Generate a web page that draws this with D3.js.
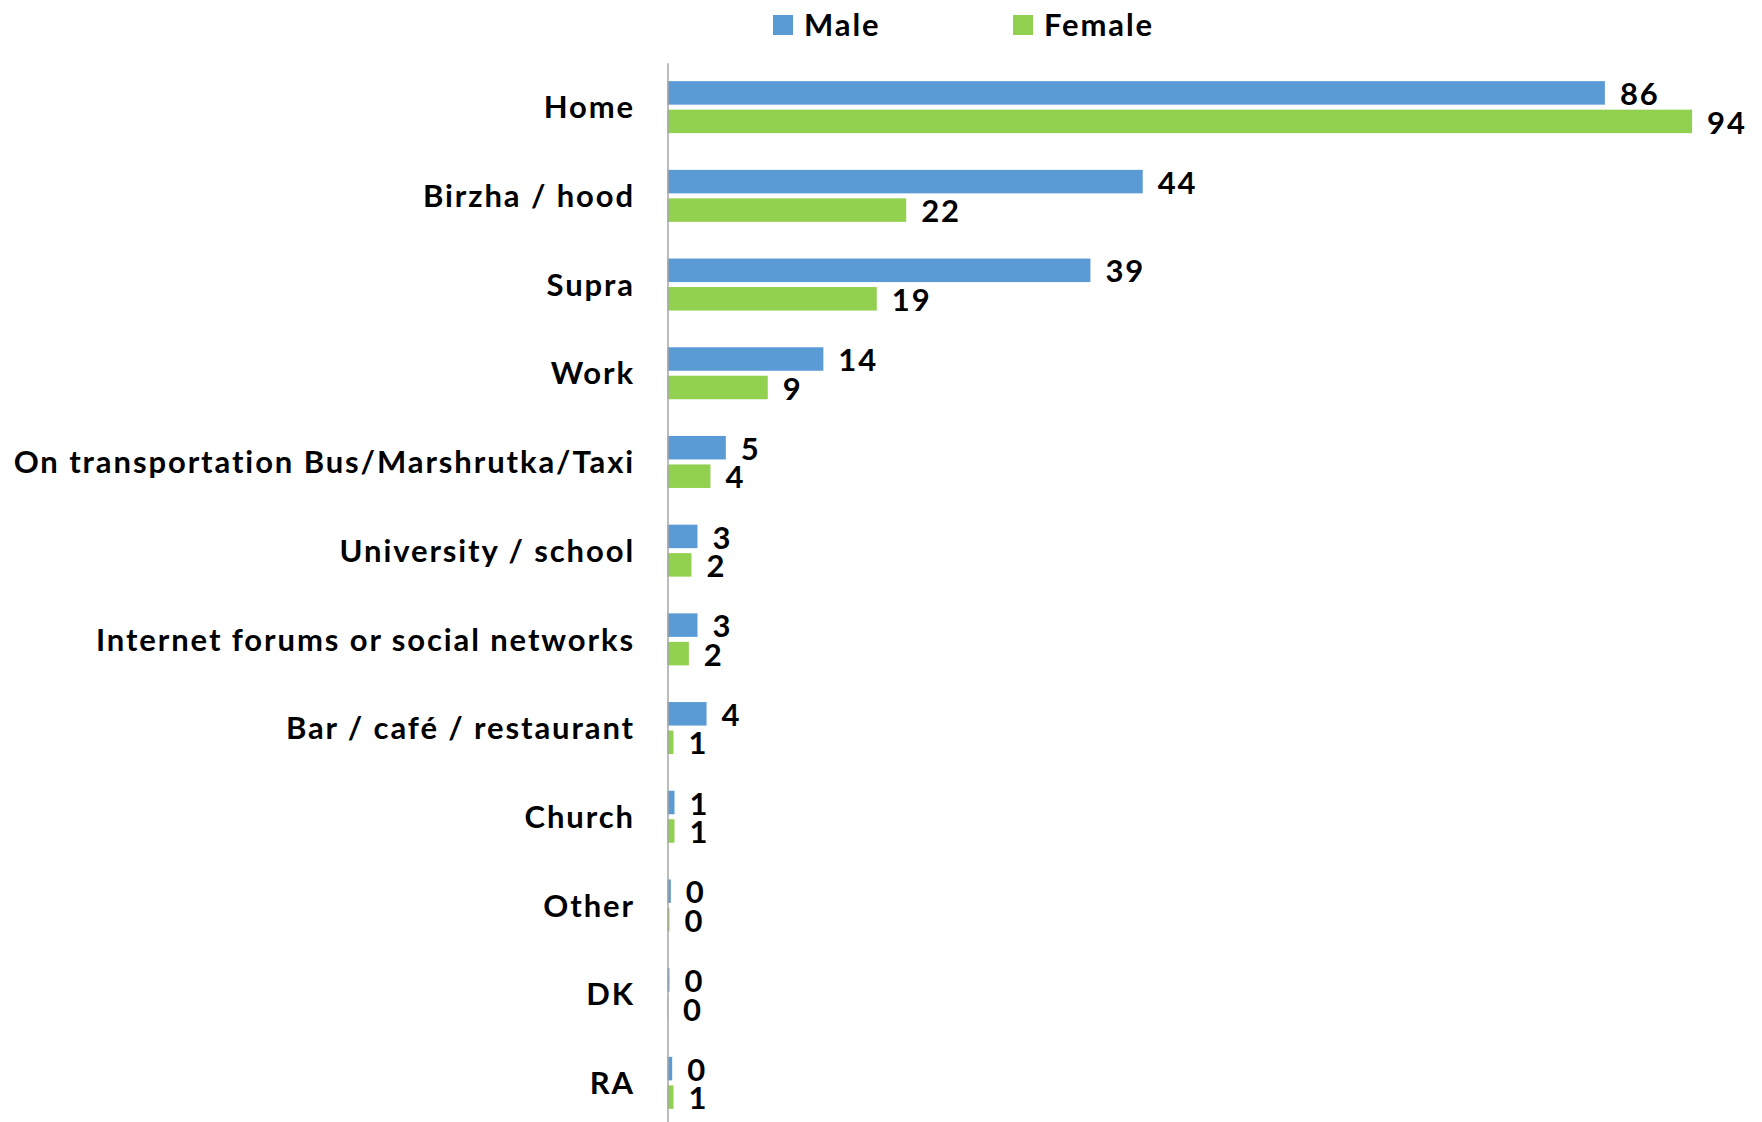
<!DOCTYPE html>
<html>
<head>
<meta charset="utf-8">
<script src="https://cdn.jsdelivr.net/npm/d3@7"></script>
<style>
  html, body { margin: 0; padding: 0; background: #ffffff; }
  svg { display: block; }
  text { font-family: Lato, "Open Sans", sans-serif; font-weight: 700; fill: #000; letter-spacing: 1.9px; }
</style>
</head>
<body>
<svg id="chart" width="1762" height="1122"></svg>
<script>
// Where conversations take place, by gender (%)
const categories = [
  "Home",
  "Birzha / hood",
  "Supra",
  "Work",
  "On transportation Bus/Marshrutka/Taxi",
  "University / school",
  "Internet forums or social networks",
  "Bar / café / restaurant",
  "Church",
  "Other",
  "DK",
  "RA"
];
const seriesNames = ["Male", "Female"];
const maleValues   = [86.0, 43.6, 38.8, 14.3, 5.35, 2.75, 2.75, 3.58, 0.64, 0.30, 0.18, 0.43];
const femaleValues = [94.0, 21.9, 19.2, 9.2, 3.94, 2.2, 1.96, 0.55, 0.64, 0.18, 0.04, 0.55];
const seriesColors = ["#5B9BD5", "#92D050"];

const svg = d3.select("#chart");
const axisX = 667.5;
const plotTop = 62.8;
const step = 88.7;

const x = d3.scaleLinear().domain([0, 100]).range([axisX, axisX + 1090]);
const y0 = d3.scaleBand().domain(categories)
  .range([plotTop, plotTop + step * categories.length]).paddingInner(0).paddingOuter(0);
const pairH = 52;
const y1 = d3.scaleBand().domain(seriesNames)
  .range([(y0.bandwidth() - pairH) / 2, (y0.bandwidth() + pairH) / 2])
  .paddingInner(0.175).paddingOuter(0);
const color = d3.scaleOrdinal().domain(seriesNames).range(seriesColors);

const rows = categories.map((c, i) => ({
  category: c,
  values: [
    { series: "Male", value: maleValues[i] },
    { series: "Female", value: femaleValues[i] }
  ]
}));

const fontSize = 31;
const capHalf = fontSize * 0.36;

// Category labels
svg.append("g").selectAll("text").data(categories).join("text")
  .attr("x", 635)
  .attr("y", d => y0(d) + y0.bandwidth() / 2 + capHalf)
  .attr("text-anchor", "end")
  .style("font-size", fontSize + "px")
  .text(d => d);

// Bars and value labels
const groups = svg.append("g").selectAll("g").data(rows).join("g")
  .attr("transform", d => `translate(0,${y0(d.category)})`);

groups.selectAll("rect").data(d => d.values).join("rect")
  .attr("x", x(0))
  .attr("y", d => y1(d.series))
  .attr("width", d => x(d.value) - x(0))
  .attr("height", y1.bandwidth())
  .attr("fill", d => color(d.series));

groups.selectAll("text").data(d => d.values).join("text")
  .attr("x", d => x(d.value) + 15)
  .attr("y", d => y1(d.series) + y1.bandwidth() / 2 + capHalf + 1)
  .style("font-size", fontSize + "px")
  .text(d => d3.format(".0f")(d.value));

// Vertical category axis line
const yAxis = d3.axisLeft(y0).tickSize(0).tickFormat("");
const axisG = svg.append("g").attr("transform", `translate(${axisX},0)`).call(yAxis);
axisG.select(".domain").attr("stroke", "#A6A6A6").attr("stroke-width", 1.5);

// Legend
const legendItems = [
  { name: "Male", x: 773 },
  { name: "Female", x: 1013 }
];
const legend = svg.append("g").selectAll("g").data(legendItems).join("g")
  .attr("transform", d => `translate(${d.x},15)`);
legend.append("rect").attr("width", 20).attr("height", 20)
  .attr("fill", d => color(d.name));
legend.append("text").attr("x", 31).attr("y", 20.5)
  .style("font-size", fontSize + "px")
  .text(d => d.name);
</script>
</body>
</html>
